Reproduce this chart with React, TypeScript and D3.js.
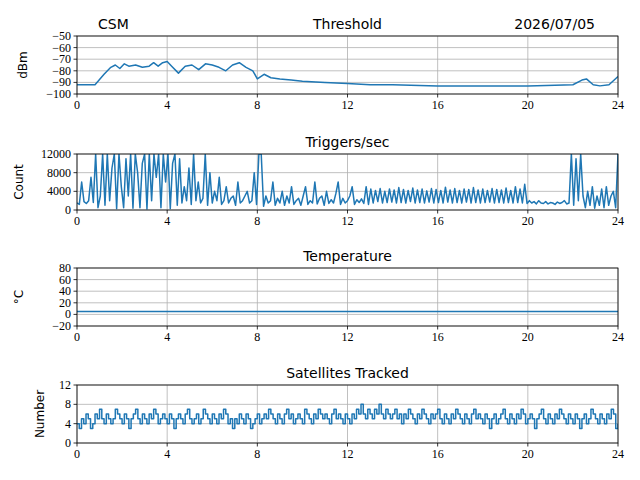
import * as d3 from 'd3'

const hoursTick = [0, 4, 8, 12, 16, 20, 24]

// threshold (dBm), hour / value pairs
const thrHours = [0, 0.8, 1.2, 1.5, 1.7, 1.9, 2.1, 2.3, 2.6, 2.9, 3.2, 3.4, 3.6, 3.8, 4.0, 4.2, 4.5, 4.8, 5.1, 5.4, 5.7, 6.0, 6.3, 6.6, 6.9, 7.2, 7.5, 7.8, 8.0, 8.3, 8.6, 9.0, 9.5, 10, 11, 12, 13, 14, 16, 18, 20, 22, 22.4, 22.6, 22.9, 23.2, 23.6, 24]
const thrValues = [-92, -92, -83, -77, -75, -78, -74, -76, -75, -77, -76, -73, -76, -73, -72, -76, -82, -76, -75, -79, -74, -75, -77, -80, -75, -73, -77, -80, -87, -83, -86, -87, -88, -89, -90, -91, -92, -92, -93, -93, -93, -92, -88, -87, -92, -93, -92, -85]

// triggers per second, evenly spread over 0..24 h (thousands)
const trigK = [
  1.5, 1.2, 6, 1.8, 1.4, 2, 7, 1.6, 12, 0.5, 3, 12, 1, 12, 2, 9, 12, 0.3, 12, 5,
  0.5, 11, 3, 12, 0.4, 12, 8, 0.5, 10, 12, 0.2, 12, 2, 12, 7, 12, 0.5, 12, 6, 12,
  0.3, 10, 12, 1, 11, 1.5, 5, 2, 9, 1.2, 12, 2, 6, 1.5, 2.5, 12, 1, 8, 1.5, 4,
  2, 7, 1.2, 2, 5, 1.5, 2.5, 3, 1, 6, 1.5, 2, 3, 4, 1.5, 2, 8, 1.2, 12, 12,
  0.8, 3, 1.5, 2, 6, 1, 2.5, 1.5, 4, 1, 3, 1.5, 5, 1.2, 2, 2.5, 1, 3, 5, 1.2,
  2, 1.5, 6, 1.3, 2.5, 3, 1, 4, 1.4, 2.2, 1.5, 3.5, 6, 1.2, 2.5, 1.5, 2, 3, 5, 1.2,
  2.2, 1.6, 2.4, 1.4, 5, 1.2, 4.5, 1.5, 4.2, 1.8, 4.6, 1.5, 4, 1.6, 4.5, 1.7, 4.3, 1.5, 4.8, 1.6,
  4.4, 1.5, 4.2, 1.8, 4.7, 1.5, 4.3, 1.6, 4.5, 1.5, 4.1, 1.7, 4.6, 1.5, 4.4, 1.6, 4.2, 1.5, 4.9, 1.7,
  4.3, 1.5, 4.6, 1.6, 4.2, 1.5, 4.5, 1.7, 4.4, 1.5, 4.8, 1.6, 4.3, 1.5, 4.5, 1.6, 4.2, 1.7, 4.6, 1.5,
  4.4, 1.6, 4.3, 1.5, 4.7, 1.6, 4.2, 1.5, 5, 1.6, 4.5, 1.5, 5.5, 1.4, 2, 1.5, 1.8, 1.3, 2, 1.5,
  1.4, 1.8, 1.3, 1.6, 1.5, 1.2, 1.7, 1.4, 1.6, 2, 1.3, 1.5, 12, 1, 11, 2, 12, 3, 0.5, 4,
  1, 5, 0.4, 3, 1, 4.5, 0.5, 5, 1, 3, 4, 0.5, 12
]

// temperature (°C)
const tempHours = [0, 24]
const tempValues = [5, 5]

// satellites tracked, evenly spread over 0..24 h
const sats = [
  4, 3, 5, 4, 6, 5, 3, 4, 6, 5, 7, 5, 4, 6, 5, 4, 5, 7, 6, 5, 4, 6, 5, 3, 5, 6, 7, 5, 4, 6,
  5, 4, 6, 5, 7, 6, 4, 5, 6, 5, 4, 6, 5, 3, 5, 6, 5, 4, 6, 7, 5, 4, 5, 6, 4, 5, 7, 6, 5, 4,
  6, 5, 4, 6, 5, 7, 6, 4, 5, 3, 5, 4, 6, 5, 4, 6, 5, 3, 4, 5, 6, 4, 5, 6, 5, 7, 6, 5, 4, 6,
  5, 4, 6, 7, 5, 6, 4, 5, 6, 5, 4, 7, 6, 5, 4, 6, 5, 7, 6, 5, 6, 5, 4, 6, 7, 5, 6, 5, 4, 6,
  5, 4, 6, 5, 7, 6, 8, 6, 5, 7, 6, 5, 7, 6, 8, 6, 5, 7, 6, 5, 6, 7, 5, 6, 4, 6, 5, 7, 6, 5,
  4, 6, 5, 7, 6, 5, 4, 6, 5, 6, 7, 5, 4, 6, 5, 4, 6, 5, 7, 6, 5, 4, 6, 5, 4, 6, 7, 5, 6, 5,
  4, 6, 5, 3, 5, 6, 4, 5, 6, 7, 5, 4, 6, 5, 4, 6, 5, 7, 6, 4, 5, 6, 5, 3, 5, 6, 7, 5, 4, 6,
  5, 4, 6, 5, 7, 6, 5, 4, 6, 5, 4, 6, 5, 3, 5, 6, 4, 5, 7, 6, 5, 4, 6, 5, 4, 6, 5, 7, 6, 3, 4
]

const L = 77, R = 618
const x = d3.scaleLinear().domain([0, 24]).range([L, R])
const blue = '#1f77b4'
const tickFont = '"Liberation Serif", "DejaVu Serif", serif'
const sans = '"DejaVu Sans", sans-serif'

type Panel = {
  top: number; bottom: number; domain: [number, number]; ticks: number[]
  title: string; ylabel: string; ylx: number; step?: boolean
  pts: [number, number][]
}

const spread = (arr: number[], k: number): [number, number][] =>
  arr.map((v, i) => [(i * 24) / (arr.length - 1), v * k])

const panels: Panel[] = [
  { top: 36, bottom: 94, domain: [-100, -50], ticks: d3.range(-100, -49, 10), title: 'Threshold', ylabel: 'dBm', ylx: 27,
    pts: thrHours.map((h, i) => [h, thrValues[i]]) },
  { top: 154, bottom: 210, domain: [0, 12000], ticks: [0, 4000, 8000, 12000], title: 'Triggers/sec', ylabel: 'Count', ylx: 23,
    pts: spread(trigK, 1000) },
  { top: 268, bottom: 326, domain: [-20, 80], ticks: [-20, 0, 20, 40, 60, 80], title: 'Temperature', ylabel: '°C', ylx: 23,
    pts: tempHours.map((h, i) => [h, tempValues[i]]) },
  { top: 385, bottom: 443, domain: [0, 12], ticks: [0, 4, 8, 12], title: 'Satellites Tracked', ylabel: 'Number', ylx: 44, step: true,
    pts: spread(sats, 1) },
]

const fmt = (v: number) => String(v).replace('-', '\u2212')

function PanelView({ p }: { p: Panel }) {
  const y = d3.scaleLinear().domain(p.domain).range([p.bottom, p.top])
  const line = d3.line<[number, number]>().x(d => x(d[0])).y(d => y(d[1]))
  if (p.step) line.curve(d3.curveStepAfter)
  const id = `clip${p.top}`
  return (
    <g>
      <clipPath id={id}><rect x={L} y={p.top} width={R - L} height={p.bottom - p.top} /></clipPath>
      {hoursTick.map(t => <line key={'gx' + t} x1={x(t)} x2={x(t)} y1={p.top} y2={p.bottom} stroke="#b0b0b0" strokeWidth={0.8} />)}
      {p.ticks.map(t => <line key={'gy' + t} x1={L} x2={R} y1={y(t)} y2={y(t)} stroke="#b0b0b0" strokeWidth={0.8} />)}
      <path d={line(p.pts) ?? ''} fill="none" stroke={blue} strokeWidth={1.5} clipPath={`url(#${id})`} strokeLinejoin="round" />
      <rect x={L} y={p.top} width={R - L} height={p.bottom - p.top} fill="none" stroke="#000" strokeWidth={0.8} />
      {hoursTick.map(t => (
        <g key={'tx' + t}>
          <line x1={x(t)} x2={x(t)} y1={p.bottom} y2={p.bottom + 3.5} stroke="#000" strokeWidth={0.8} />
          <text x={x(t)} y={p.bottom + 15} textAnchor="middle" fontSize={12} fontFamily={tickFont}>{t}</text>
        </g>
      ))}
      {p.ticks.map(t => (
        <g key={'ty' + t}>
          <line x1={L - 3.5} x2={L} y1={y(t)} y2={y(t)} stroke="#000" strokeWidth={0.8} />
          <text x={L - 6} y={y(t) + 4} textAnchor="end" fontSize={12} fontFamily={tickFont}>{fmt(t)}</text>
        </g>
      ))}
      <text x={(L + R) / 2} y={p.top - 7} textAnchor="middle" fontSize={14} fontFamily={sans}>{p.title}</text>
      <text transform={`translate(${p.ylx},${(p.top + p.bottom) / 2}) rotate(-90)`} textAnchor="middle" fontSize={12} fontFamily={sans}>{p.ylabel}</text>
    </g>
  )
}

export default function App() {
  return (
    <svg width={640} height={480} style={{ position: 'absolute', left: 0, top: 0, background: '#fff' }}>
      <rect width={640} height={480} fill="#fff" />
      {panels.map(p => <PanelView key={p.title} p={p} />)}
      <text x={98} y={29} fontSize={14} fontFamily={sans}>CSM</text>
      <text x={595} y={29} textAnchor="end" fontSize={14} fontFamily={sans}>2026/07/05</text>
    </svg>
  )
}
